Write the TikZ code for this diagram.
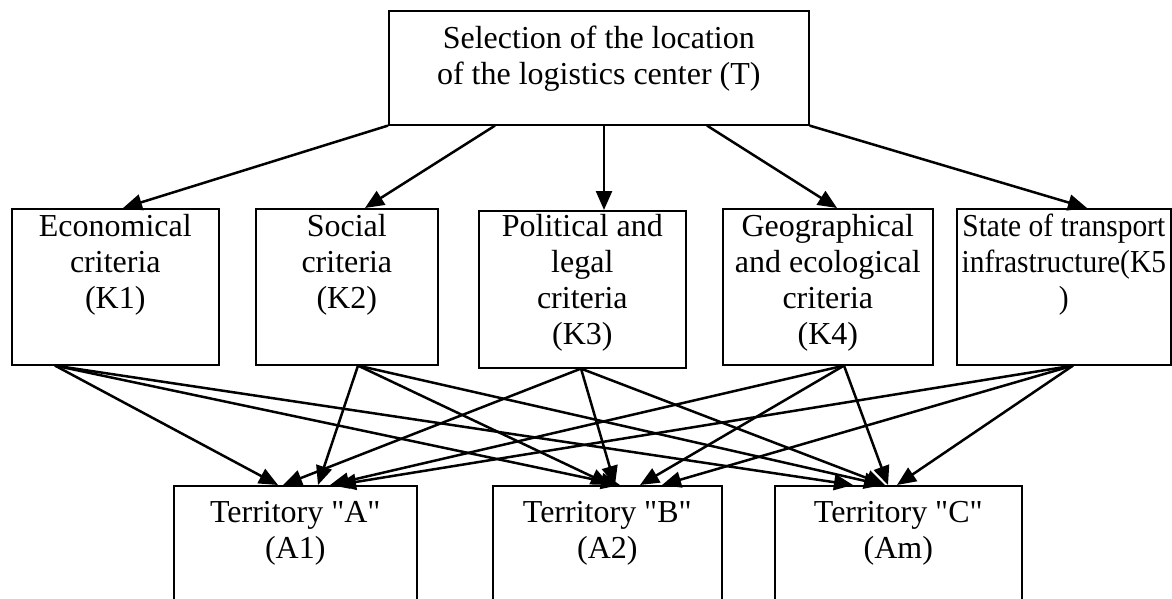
\documentclass[tikz,border=0pt]{standalone}
\usepackage{fontspec}
\setmainfont{Liberation Serif}
\newfontfamily\narrowfont[FakeStretch=0.92]{Liberation Serif}
\usetikzlibrary{arrows.meta,calc,positioning}
\def\dq{\XeTeXglyph\XeTeXcharglyph"22\relax}

\begin{document}
\begin{tikzpicture}[x=0.5pt, y=-0.5pt,
		box/.style={draw, line width=0.8pt, anchor=north west, inner sep=0pt},
		txt/.style={anchor=north, align=center, inner sep=0pt, font=\fontsize{16}{18}\selectfont},
		arr/.style={line width=1.25pt, -{Triangle[length=9.5pt,width=8pt]}}]
		%%%%% START %%%%%
		
		\useasboundingbox (0, 0) rectangle (1172, 599);
		\clip (0, 0) rectangle (1172, 599);
		
		% goal
		\node[box, minimum width=210pt, minimum height=57pt] (t) at (388, 10) {};
		\node[txt, below=8pt of t.north] (tt) {Selection of the location\\of the logistics center (T)};
		
		% criteria
		\node[box, minimum width=103.5pt, minimum height=78pt] (k1) at (11, 208) {};
		\node[box, minimum width=91pt, minimum height=78pt] (k2) at (255, 208) {};
		\node[box, minimum width=103.5pt, minimum height=78.5pt] (k3) at (478, 210) {};
		\node[box, minimum width=105pt, minimum height=78pt] (k4) at (722, 208) {};
		\node[box, minimum width=107pt, minimum height=78pt] (k5) at (956, 208) {};
		
		\node[txt, below=3pt of k1.north] (k1t) {Economical\\criteria\\(K1)};
		\node[txt, below=3pt of k2.north] (k2t) {Social\\criteria\\(K2)};
		\node[txt, below=2pt of k3.north] (k3t) {Political and\\legal\\criteria\\(K3)};
		\node[txt, below=3pt of k4.north] (k4t) {Geographical\\and ecological\\criteria\\(K4)};
		\node[txt, below=3pt of k5.north, font=\narrowfont\fontsize{16}{18}\selectfont] (k5t) {State of transport\\infrastructure(K5\\)};
		
		% alternatives
		\node[box, minimum width=121.5pt, minimum height=70pt] (a1) at (173, 485) {};
		\node[box, minimum width=114.5pt, minimum height=70pt] (a2) at (492, 485) {};
		\node[box, minimum width=123.5pt, minimum height=70pt] (a3) at (774, 485) {};
		
		\node[txt, below=8pt of a1.north] (a1t) {Territory \dq A\dq\\(A1)};
		\node[txt, below=8pt of a2.north] (a2t) {Territory \dq B\dq\\(A2)};
		\node[txt, below=8pt of a3.north] (a3t) {Territory \dq C\dq\\(Am)};
		
		% goal -> criteria
		\draw[arr] (t.south west) -- ($(k1.north west)+(112, 0)$);
		\draw[arr] ($(t.south west)+(107, 0)$) -- ($(k2.north west)+(110, 0)$);
		\draw[arr] ($(t.south west)+(216, 0)$) -- ($(k3.north west)+(126, 0)$);
		\draw[arr] ($(t.south west)+(319, 0)$) -- ($(k4.north west)+(115, 0)$);
		\draw[arr] (t.south east) -- ($(k5.north west)+(131, 0)$);
		
		% criteria -> alternatives
		\coordinate (k1s) at ($(k1.south west)+(44, 0)$);
		\coordinate (k2s) at ($(k2.south west)+(103, 0)$);
		\coordinate (k3s) at ($(k3.south west)+(103, 0)$);
		\coordinate (k4s) at ($(k4.south west)+(122, 0)$);
		\coordinate (k5s) at ($(k5.south west)+(117, 0)$);
		
		\draw[arr] (k1s) -- ($(a1.north west)+(105, 0)$);
		\draw[arr] (k1s) -- ($(a2.north west)+(128, 0)$);
		\draw[arr] (k1s) -- ($(a3.north west)+(79, 0)$);
		
		\draw[arr] (k2s) -- ($(a1.north west)+(145, 0)$);
		\draw[arr] (k2s) -- ($(a2.north west)+(118, 0)$);
		\draw[arr] (k2s) -- ($(a3.north west)+(109, 0)$);
		
		\draw[arr] (k3s) -- ($(a1.north west)+(110, 0)$);
		\draw[arr] (k3s) -- ($(a2.north west)+(123, 0)$);
		\draw[arr] (k3s) -- ($(a3.north west)+(111, 0)$);
		
		\draw[arr] (k4s) -- ($(a1.north west)+(157, 0)$);
		\draw[arr] (k4s) -- ($(a2.north west)+(148, 0)$);
		\draw[arr] (k4s) -- ($(a3.north west)+(114, 0)$);
		
		\draw[arr] (k5s) -- ($(a1.north west)+(164, 0)$);
		\draw[arr] (k5s) -- ($(a2.north west)+(170, 0)$);
		\draw[arr] (k5s) -- ($(a3.north west)+(123, 0)$);
		
		%%%%% END %%%%%
	\end{tikzpicture}
\end{document}
